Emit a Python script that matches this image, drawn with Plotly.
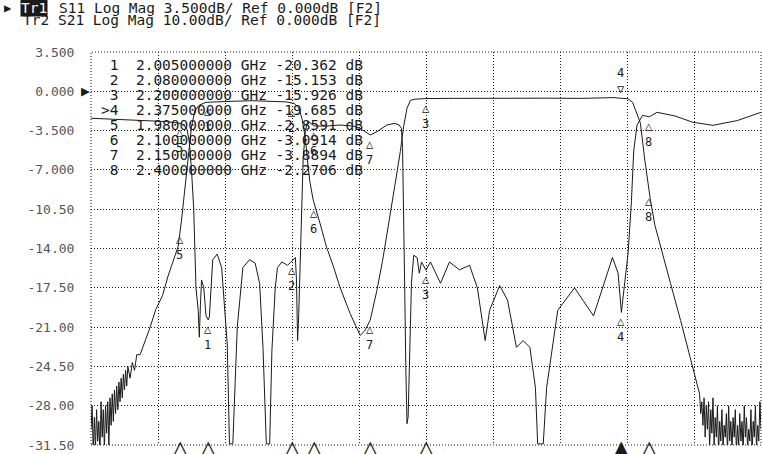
import numpy as np
import plotly.graph_objects as go

# Tr1: S11 log magnitude (dB), 3.5 dB/div
s11_freq_ghz = [1.900, 1.910, 1.925, 1.940, 1.955, 1.968, 1.980, 1.983, 1.986, 1.988,
                1.990, 1.992, 1.993, 1.994, 1.996, 1.997, 1.998, 1.999, 2.001, 2.003,
                2.005, 2.006, 2.009, 2.013, 2.017, 2.022, 2.024, 2.027, 2.031, 2.036,
                2.042, 2.047, 2.051, 2.054, 2.057, 2.060, 2.062, 2.065, 2.067, 2.071,
                2.076, 2.080, 2.083, 2.084, 2.085, 2.086, 2.088, 2.089, 2.090, 2.092,
                2.094, 2.096, 2.100, 2.110, 2.123, 2.135, 2.141, 2.150, 2.156, 2.165,
                2.172, 2.176, 2.178, 2.179, 2.180, 2.181, 2.182, 2.183, 2.184, 2.185,
                2.187, 2.189, 2.192, 2.194, 2.196, 2.200, 2.204, 2.213, 2.221, 2.230,
                2.239, 2.246, 2.253, 2.257, 2.266, 2.273, 2.281, 2.287, 2.293, 2.298,
                2.300, 2.305, 2.308, 2.318, 2.333, 2.350, 2.367, 2.372, 2.375, 2.378,
                2.381, 2.384, 2.386, 2.389, 2.394, 2.400, 2.407, 2.423, 2.439, 2.457,
                2.479, 2.500]
s11_db = [-2.40, -2.45, -2.50, -2.58, -2.62, -2.70, -2.86, -3.00, -3.40, -4.5,
          -7.0, -10.5, -14.0, -17.5, -19.5, -21.9, -19.0, -16.8, -17.5, -20.0,
          -20.36, -20.1, -15.0, -14.5, -15.7, -22.5, -31.4, -31.4, -21.0, -15.7,
          -15.0, -15.3, -17.1, -22.8, -31.4, -31.4, -23.1, -17.5, -15.7, -15.2,
          -15.5, -15.15, -14.8, -16.8, -22.2, -20.0, -14.0, -9.7, -6.0, -3.5,
          -2.7, -2.8, -3.09, -3.1, -3.0, -3.1, -3.3, -3.89, -3.6, -3.0,
          -2.85, -3.0, -3.3, -5.0, -10.0, -18.0, -25.0, -29.6, -29.0, -23.9,
          -17.0, -14.6, -14.8, -16.2, -15.2, -15.93, -15.2, -17.1, -15.2, -15.9,
          -15.5, -17.5, -22.2, -19.5, -17.3, -18.6, -22.8, -22.2, -22.8, -26.4,
          -31.4, -31.4, -26.4, -19.5, -17.5, -20.0, -14.8, -16.2, -19.69, -17.0,
          -14.4, -9.7, -5.3, -3.0, -2.14, -2.27, -1.87, -2.2, -2.76, -3.03,
          -2.6, -1.87]

# Tr2: S21 log magnitude (dB), 10 dB/div
s21_freq_ghz = [1.900, 1.901, 1.902, 1.903, 1.904, 1.905, 1.906, 1.907, 1.908, 1.909,
                1.910, 1.911, 1.912, 1.913, 1.914, 1.915, 1.916, 1.917, 1.918, 1.919,
                1.920, 1.921, 1.922, 1.923, 1.924, 1.925, 1.926, 1.927, 1.928, 1.929,
                1.930, 1.931, 1.932, 1.933, 1.935, 1.937, 1.939, 1.941, 1.944, 1.948,
                1.953, 1.958, 1.964, 1.969, 1.973, 1.978, 1.981, 1.984, 1.987, 1.990,
                1.993, 1.997, 2.003, 2.015, 2.030, 2.045, 2.060, 2.075, 2.082, 2.086,
                2.089, 2.092, 2.094, 2.096, 2.099, 2.101, 2.105, 2.111, 2.117, 2.123,
                2.132, 2.141, 2.145, 2.150, 2.156, 2.161, 2.168, 2.172, 2.177, 2.180,
                2.183, 2.186, 2.190, 2.200, 2.220, 2.250, 2.280, 2.310, 2.340, 2.360,
                2.368, 2.375, 2.381, 2.385, 2.388, 2.392, 2.396, 2.401, 2.405, 2.410,
                2.419, 2.428, 2.437, 2.443,
                2.445, 2.446, 2.447, 2.448, 2.449, 2.450, 2.451, 2.452, 2.453, 2.454,
                2.455, 2.456, 2.457, 2.458, 2.459, 2.460, 2.461, 2.462, 2.463, 2.464,
                2.465, 2.466, 2.467, 2.468, 2.469, 2.470, 2.471, 2.472, 2.473, 2.474,
                2.475, 2.476, 2.477, 2.478, 2.479, 2.480, 2.481, 2.482, 2.483, 2.484,
                2.485, 2.486, 2.487, 2.488, 2.489, 2.490, 2.491, 2.492, 2.493, 2.494,
                2.495, 2.496, 2.497, 2.498, 2.499, 2.500]
s21_db = [-86, -80, -92, -83, -91, -81, -89, -84, -92, -79,
          -88, -81, -91, -80, -87, -79, -90, -78, -85, -77,
          -84, -76, -82, -75, -81, -74, -79, -73, -78, -72,
          -76, -71, -75, -70, -73, -69, -71, -67, -67, -64,
          -60, -55.5, -52, -47, -43.8, -39.5, -33, -25, -16, -9,
          -5, -3.5, -2.8, -2.6, -2.5, -2.4, -2.5, -2.7, -3.1, -4.2,
          -7, -12, -18, -23, -27.7, -29.5, -33.5, -39.7, -44.5, -49.9,
          -56.5, -62.1, -61.0, -58.3, -50.7, -43.3, -31.8, -24.2, -15.3, -8.9,
          -4.3, -2.3, -2.0, -1.85, -1.8, -1.75, -1.8, -1.75, -1.8, -1.75,
          -1.6, -1.8, -1.9, -2.8, -5.3, -8.1, -17.6, -27.7, -34.1, -39.2,
          -48.9, -58.3, -68.5, -74.8,
          -77, -82, -79, -85, -78, -88, -80, -86, -79, -91,
          -81, -87, -78, -90, -83, -88, -80, -92, -84, -89,
          -81, -91, -85, -88, -82, -92, -80, -89, -84, -91,
          -83, -88, -81, -92, -85, -90, -82, -89, -84, -92,
          -80, -88, -83, -91, -86, -89, -81, -92, -84, -88,
          -80, -91, -85, -89, -79, -86]

# marker table (Tr1 readouts)
marker_ids = [1, 2, 3, 4, 5, 6, 7, 8]
marker_freq_ghz = [2.005, 2.080, 2.200, 2.375, 1.980, 2.100, 2.150, 2.400]
marker_s11_db = [-20.362, -15.153, -15.926, -19.685, -2.8591, -3.0914, -3.8894, -2.2706]
active_marker = 4

s11_tick_vals = [3.5, 0.0, -3.5, -7.0, -10.5, -14.0, -17.5, -21.0, -24.5, -28.0, -31.5]
s11_tick_text = ["3.500", "0.000", "-3.500", "-7.000", "-10.50", "-14.00",
                 "-17.50", "-21.00", "-24.50", "-28.00", "-31.50"]
s21_range = [-90, 10]
freq_grid_ghz = [1.90, 1.96, 2.02, 2.08, 2.14, 2.20, 2.26, 2.32, 2.38, 2.44, 2.50]

header_tr1 = "S11 Log Mag 3.500dB/ Ref 0.000dB [F2]"
header_tr2 = "Tr2 S21 Log Mag 10.00dB/ Ref 0.000dB [F2]"

# ---------------- layout helpers ----------------
W, H = 762, 454
ML, MR, MT, MB = 91, 1, 52, 9
PW, PH = W - ML - MR, H - MT - MB
MONO = "DejaVu Sans Mono"
INK = "#1a1a1a"
DOT = "1px,2px"


def px(x):
    return (x - ML) / PW


def py(y):
    return (H - MB - y) / PH


def nb(s):
    return s.replace(" ", "\u00a0")


fig = go.Figure()
fig.add_trace(go.Scatter(x=s11_freq_ghz, y=s11_db, mode="lines",
                         line=dict(color=INK, width=1), yaxis="y", hoverinfo="skip"))
fig.add_trace(go.Scatter(x=s21_freq_ghz, y=s21_db, mode="lines",
                         line=dict(color=INK, width=1), yaxis="y2", hoverinfo="skip"))

annotations = []

# stimulus markers under the graticule
for mid, f in zip(marker_ids, marker_freq_ghz):
    annotations.append(dict(x=f, y=0, xref="x", yref="paper",
                            text="▲" if mid == active_marker else "△",
                            showarrow=False, yanchor="top", yshift=12,
                            font=dict(family="DejaVu Sans", size=24, color=INK)))

# marker symbols on traces
MK_FONT = dict(family=MONO, size=12, color=INK)
s21_at = np.interp(marker_freq_ghz, s21_freq_ghz, s21_db)
for mid, f, v1, v2 in zip(marker_ids, marker_freq_ghz, marker_s11_db, s21_at):
    annotations.append(dict(x=f, y=v1, xref="x", yref="y", text=f"△<br>{mid}",
                            showarrow=False, yanchor="top", font=MK_FONT))
    if mid == active_marker:
        annotations.append(dict(x=f, y=v2, xref="x", yref="y2", text=f"{mid}<br>▽",
                                showarrow=False, yanchor="bottom", font=MK_FONT))
    else:
        annotations.append(dict(x=f, y=v2, xref="x", yref="y2", text=f"△<br>{mid}",
                                showarrow=False, yanchor="top", font=MK_FONT))

# marker table
for i, (mid, f, v) in enumerate(zip(marker_ids, marker_freq_ghz, marker_s11_db)):
    lead = ">" if mid == active_marker else " "
    row = f"{lead}{mid}  {f:.9f} GHz {v:.5g} dB"
    annotations.append(dict(x=px(99), y=py(65 + 15 * i), xref="paper", yref="paper",
                            text=nb(row), showarrow=False, xanchor="left", yanchor="middle",
                            font=dict(family=MONO, size=14.5, color=INK)))

# header lines
annotations.append(dict(x=px(2), y=py(8), xref="paper", yref="paper", text="▶",
                        showarrow=False, xanchor="left", yanchor="middle",
                        font=dict(family=MONO, size=12, color=INK)))
annotations.append(dict(x=px(20), y=py(8), xref="paper", yref="paper", text="Tr1",
                        showarrow=False, xanchor="left", yanchor="middle", bgcolor=INK,
                        borderpad=0, font=dict(family=MONO, size=14.5, color="white")))
annotations.append(dict(x=px(57), y=py(8), xref="paper", yref="paper", text=nb(header_tr1),
                        showarrow=False, xanchor="left", yanchor="middle",
                        font=dict(family=MONO, size=14.5, color=INK)))
annotations.append(dict(x=px(21), y=py(20), xref="paper", yref="paper", text=nb(header_tr2),
                        showarrow=False, xanchor="left", yanchor="middle",
                        font=dict(family=MONO, size=14.5, color=INK)))

# reference position arrow
annotations.append(dict(x=0, y=0.0, xref="paper", yref="y", text="▶", showarrow=False,
                        xanchor="right", yanchor="middle", xshift=1,
                        font=dict(family=MONO, size=15, color=INK)))

fig.update_layout(
    width=W, height=H, template="none",
    margin=dict(l=ML, r=MR, t=MT, b=MB, pad=0),
    paper_bgcolor="white", plot_bgcolor="white", showlegend=False,
    xaxis=dict(range=[freq_grid_ghz[0], freq_grid_ghz[-1]], tickvals=freq_grid_ghz,
               showticklabels=False, ticks="", showgrid=True, gridcolor=INK,
               griddash=DOT, gridwidth=1, zeroline=False, showline=False),
    yaxis=dict(range=[s11_tick_vals[-1], s11_tick_vals[0]], tickvals=s11_tick_vals,
               ticktext=s11_tick_text, ticks="outside", ticklen=13,
               tickcolor="rgba(0,0,0,0)", showgrid=True, gridcolor=INK, griddash=DOT,
               gridwidth=1, zeroline=False, showline=False,
               tickfont=dict(family=MONO, size=13, color="#555")),
    yaxis2=dict(range=s21_range, overlaying="y", showgrid=False, showticklabels=False,
                zeroline=False, ticks="", showline=False),
    shapes=[dict(type="rect", xref="paper", yref="paper", x0=0, x1=1, y0=0, y1=1,
                 line=dict(color=INK, width=1, dash=DOT))],
    annotations=annotations,
)

fig.write_html("out.html",
               config={"displayModeBar": False},
               post_script="document.body.style.margin='0px';"
                           "document.body.style.padding='0px';"
                           "document.body.style.overflow='hidden';")
